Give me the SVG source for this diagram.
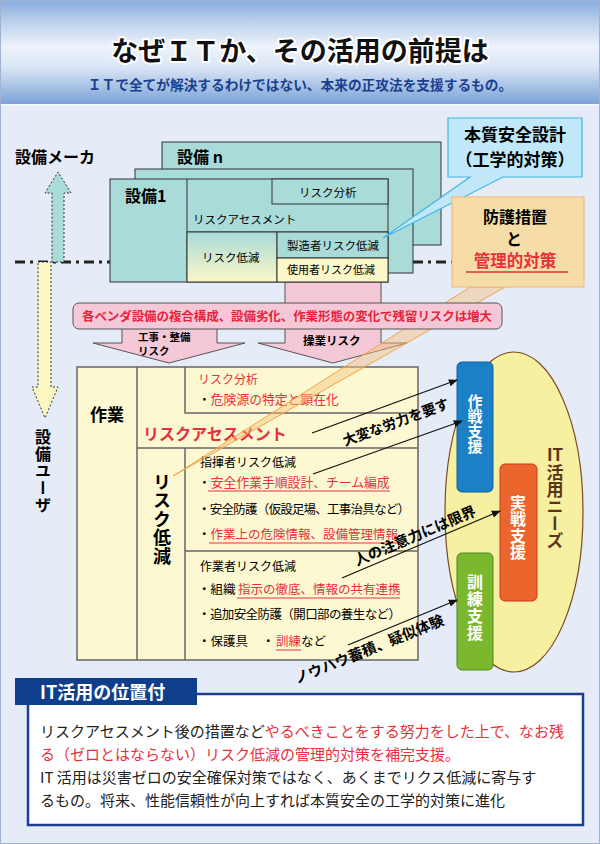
<svg xmlns="http://www.w3.org/2000/svg" width="600" height="844" viewBox="0 0 600 844">
<defs>
<linearGradient id="hdr" x1="0" y1="0" x2="0" y2="1">
<stop offset="0" stop-color="#86abdd"/>
<stop offset="0.2" stop-color="#b9cfec"/>
<stop offset="0.45" stop-color="#eef3fb"/>
<stop offset="0.65" stop-color="#d9e5f5"/>
<stop offset="1" stop-color="#7aa2d7"/>
</linearGradient>
<linearGradient id="rg" x1="0" y1="0" x2="0" y2="1">
<stop offset="0" stop-color="#a9dbd9"/>
<stop offset="1" stop-color="#fcf7c8"/>
</linearGradient>
<marker id="ah" viewBox="0 0 10 10" refX="9" refY="5" markerWidth="7" markerHeight="7" orient="auto">
<path d="M0,1 L10,5 L0,9 Z" fill="#111"/>
</marker>
</defs>
<style>
text{font-family:"Noto Sans CJK JP","Noto Sans",sans-serif}
.b{font-weight:700}
.r{fill:#e8303c}
.teal{fill:#a9dbd9;stroke:#333;stroke-width:1}
.ln{stroke:#666;stroke-width:1.5;fill:none}
.ul{stroke:#e8303c;stroke-width:1}
.conn{stroke:#111;stroke-width:1.3;fill:none;marker-end:url(#ah)}
.v{writing-mode:vertical-rl}
.pink{fill:#f5c8d8;stroke:#555;stroke-width:1}
.w{fill:#fff}
</style>

<rect x="0" y="0" width="600" height="844" fill="#e6ecf7"/>
<g id="header">
<rect x="0" y="0" width="600" height="104" fill="url(#hdr)"/>
<line x1="0" y1="105" x2="600" y2="105" stroke="#f4f7fc" stroke-width="2"/>
<text x="300" y="61" text-anchor="middle" font-size="27" class="b" stroke="#fff" stroke-width="4" stroke-linejoin="round" paint-order="stroke" fill="#111">なぜＩＴか、その活用の前提は</text>
<text x="300" y="90" text-anchor="middle" font-size="13.7" class="b" fill="#1a3f8f">ＩＴで全てが解決するわけではない、本来の正攻法を支援するもの。</text>
</g>

<g id="axis">
<line x1="15" y1="262" x2="110" y2="262" stroke="#222" stroke-width="3" stroke-dasharray="10 5 3 5"/>
<line x1="413" y1="262" x2="452" y2="262" stroke="#222" stroke-width="3" stroke-dasharray="10 5 3 5"/>
<polygon points="52,262 64,262 64,193 71,193 58,172 45,193 52,193" fill="#a9dbd9" stroke="#333" stroke-width="1" stroke-dasharray="2 2"/>
<polygon points="38,262 51,262 51,387 58,387 45,418 32,387 38,387" fill="#fbf6c2" stroke="#333" stroke-width="1" stroke-dasharray="2 2"/>
<text x="15" y="163" font-size="16" class="b">設備メーカ</text>
<text x="43" y="429" font-size="16" class="b v" style="letter-spacing:1px">設備ユーザ</text>
</g>

<g id="equip-n">
<rect x="162" y="142" width="279" height="103" class="teal"/>
<text x="177" y="163" font-size="16" class="b">設備 n</text>
</g>
<g id="equip-mid">
<rect x="135" y="169" width="278" height="104" class="teal"/>
</g>
<rect x="285" y="276" width="96" height="30" class="pink"/>
<g id="equip-1">
<rect x="110" y="179" width="278" height="103" class="teal"/>
<line x1="187" y1="179" x2="187" y2="282" stroke="#333"/>
<rect x="272" y="179" width="116" height="25" class="teal"/>
<line x1="187" y1="232" x2="388" y2="232" stroke="#333"/>
<rect x="187" y="232" width="90" height="50" fill="url(#rg)" stroke="#333"/>
<rect x="277" y="232" width="111" height="26" class="teal"/>
<rect x="277" y="258" width="111" height="24" fill="#fcf7c8" stroke="#333"/>
<text x="125" y="202" font-size="16" class="b">設備1</text>
<text x="299" y="197" font-size="11.5">リスク分析</text>
<text x="193" y="224" font-size="11.5">リスクアセスメント</text>
<text x="202" y="262" font-size="11.5">リスク低減</text>
<text x="287" y="250" font-size="11.5">製造者リスク低減</text>
<text x="287" y="274" font-size="11">使用者リスク低減</text>
</g>

<g id="flow-arrows">
<polygon points="122,325 217,325 217,343 245,343 169,363 93,343 122,343" class="pink"/>
<polygon points="285,325 381,325 381,343 407,343 333,363 258,343 285,343" class="pink"/>
<text x="138" y="341" font-size="10.5" class="b">工事・整備</text>
<text x="138" y="355" font-size="10.5" class="b">リスク</text>
<text x="303" y="345" font-size="11.5" class="b">操業リスク</text>
</g>

<g id="work-block">
<rect x="77" y="367" width="341" height="293" fill="#fcf8d2" stroke="#666" stroke-width="1.5"/>
<line x1="137" y1="367" x2="137" y2="660" class="ln"/>
<path d="M185,367 V413 H418" class="ln"/>
<line x1="137" y1="448" x2="418" y2="448" class="ln"/>
<line x1="185" y1="448" x2="185" y2="660" class="ln"/>
<line x1="185" y1="551" x2="418" y2="551" class="ln"/>
<text x="107" y="421" font-size="17" class="b" text-anchor="middle">作業</text>
<text x="198" y="384" font-size="12" class="r">リスク分析</text>
<text x="198" y="404" font-size="12.8"><tspan>・</tspan><tspan class="r">危険源の特定と顕在化</tspan></text>
<text x="143" y="440" font-size="16" class="b r">リスクアセスメント</text>
<text x="162" y="473" font-size="18" class="b v" style="letter-spacing:0.5px">リスク低減</text>
<text x="200" y="467" font-size="12">指揮者リスク低減</text>
<text x="198" y="487" font-size="12.8"><tspan>・</tspan><tspan class="r">安全作業手順設計、チーム編成</tspan></text>
<line x1="208" y1="491" x2="390" y2="491" class="ul"/>
<text x="198" y="514" font-size="12.5" textLength="212">・安全防護（仮設足場、工事治具など）</text>
<text x="198" y="539" font-size="12.5"><tspan>・</tspan><tspan class="r">作業上の危険情報、設備管理情報</tspan></text>
<line x1="209" y1="543" x2="397" y2="543" class="ul"/>
<text x="200" y="571" font-size="12">作業者リスク低減</text>
<text x="198" y="594" font-size="12.5">・組織</text>
<text x="238" y="594" font-size="12.5" class="r">指示の徹底、情報の共有連携</text>
<line x1="237" y1="598" x2="400" y2="598" class="ul"/>
<text x="198" y="619" font-size="12.5" textLength="203">・追加安全防護（開口部の養生など）</text>
<text x="198" y="646" font-size="12.5">・保護具</text>
<text x="262" y="646" font-size="12.5">・</text>
<text x="276" y="646" font-size="12.5"><tspan class="r">訓練</tspan><tspan>など</tspan></text>
<line x1="276" y1="650" x2="301" y2="650" class="ul"/>
</g>

<g id="callout-tail-orange">
<polygon points="470,287 505,287 173,476" fill="#f6c27a" fill-opacity="0.45" stroke="#f0a448" stroke-width="1"/>
</g>

<g id="banner">
<rect x="73" y="303" width="429" height="26" rx="6" class="pink"/>
<text x="287" y="321" font-size="12.5" class="b" text-anchor="middle" fill="#e8243c" textLength="410">各ベンダ設備の複合構成、設備劣化、作業形態の変化で残留リスクは増大</text>
</g>

<g id="callout-blue">
<path d="M448,118 H582 V177 H503 L383,238 L470,177 H448 Z" fill="#c0e8f8" stroke="#3fb6e6" stroke-width="1.2"/>
<text x="515" y="141" font-size="17" class="b" text-anchor="middle">本質安全設計</text>
<text x="515" y="166" font-size="17" class="b" text-anchor="middle">（工学的対策）</text>
</g>

<g id="callout-orange">
<rect x="452" y="197" width="132" height="90" fill="#f6dca6" stroke="#eebc8a" stroke-width="1.2"/>
<text x="515" y="223" font-size="16" class="b" text-anchor="middle">防護措置</text>
<text x="514" y="245" font-size="16" class="b" text-anchor="middle">と</text>
<text x="515" y="267" font-size="16.5" class="b r" text-anchor="middle">管理的対策</text>
<line x1="466" y1="272" x2="568" y2="272" stroke="#e8303c" stroke-width="1.5"/>
</g>

<g id="it-needs">
<ellipse cx="514" cy="512" rx="69" ry="160" fill="#f6f0a0" stroke="#7b4a20" stroke-width="1.2"/>
<text x="555" y="461" font-size="17" class="b" text-anchor="middle" fill="#5a3418">IT</text>
<text x="555" y="464" font-size="17" class="b v" fill="#5a3418">活用ニーズ</text>
</g>
<g id="sakusen">
<rect x="457" y="362" width="36" height="130" rx="5" fill="#1b80c6" stroke="#10609e"/>
<text x="475" y="394" font-size="15" class="b v w">作戦支援</text>
</g>
<g id="jissen">
<rect x="500" y="464" width="37" height="137" rx="5" fill="#ea662c" stroke="#d8301e"/>
<text x="518" y="495" font-size="16" class="b v w" style="letter-spacing:0.3px">実戦支援</text>
</g>
<g id="kunren">
<rect x="457" y="553" width="36" height="117" rx="5" fill="#7cb82e" stroke="#4a8a20"/>
<text x="475" y="574" font-size="16" class="b v w" style="letter-spacing:1px">訓練支援</text>
</g>

<g id="connectors">
<line x1="312" y1="433" x2="457" y2="380" class="conn"/>
<line x1="313" y1="474" x2="462" y2="421" class="conn"/>
<line x1="342" y1="578" x2="500" y2="511" class="conn"/>
<line x1="348" y1="645" x2="457" y2="600" class="conn"/>
<text transform="translate(345,446) rotate(-20)" font-size="14" class="b">大変な労力を要す</text>
<text transform="translate(357,566) rotate(-23)" font-size="14.5" class="b">人の注意力には限界</text>
<text transform="translate(297,684) rotate(-22)" font-size="14.5" class="b">ノウハウ蓄積、疑似体験</text>
</g>

<g id="it-position">
<rect x="28" y="694" width="555" height="131" fill="#fff" stroke="#1a3f8f" stroke-width="2.5"/>
<rect x="15" y="678" width="182" height="27" fill="#0f3f8c"/>
<text x="40" y="699" font-size="18" class="b w">IT活用の位置付</text>
<text x="40" y="737" font-size="15" fill="#222">リスクアセスメント後の措置など<tspan class="r">やるべきことをする努力をした上で、なお残</tspan></text>
<text x="40" y="760" font-size="15" class="r">る（ゼロとはならない）リスク低減の管理的対策を補完支援。</text>
<text x="40" y="783" font-size="15" fill="#222">IT 活用は災害ゼロの安全確保対策ではなく、あくまでリクス低減に寄与す</text>
<text x="40" y="806" font-size="15" fill="#222">るもの。将来、性能信頼性が向上すれば本質安全の工学的対策に進化</text>
</g>
<rect x="0.5" y="0.5" width="599" height="843" fill="none" stroke="#9fb2d2"/>
</svg>
